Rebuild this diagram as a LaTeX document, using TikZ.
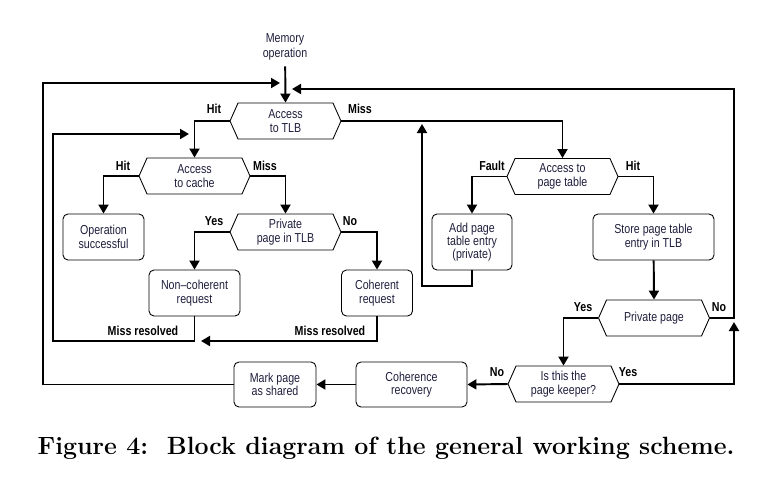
\documentclass[tikz,border=0pt]{standalone}
\usepackage{fontspec}
\usepackage{tikz}
\usetikzlibrary{arrows.meta,shapes.symbols}
\newfontfamily\diagfont{Liberation Sans}[FakeStretch=0.82,Ligatures=TeX]
\definecolor{txtblue}{RGB}{30,30,60}

\tikzset{
  box/.style={draw,rounded corners=0.1cm,line width=0.5pt,align=center,
    font=\diagfont\fontsize{7.4}{7.6}\selectfont,text=txtblue,inner sep=0pt},
  hexa/.style={draw,shape=signal,signal to=east and west,signal pointer angle=132,
    line width=0.5pt,align=center,font=\diagfont\fontsize{7.4}{7.6}\selectfont,
    text=txtblue,minimum width=2.22cm,minimum height=0.72cm,inner sep=0pt},
  flow/.style={line width=1.1pt,-{Triangle[length=0.18cm,width=0.2cm]}},
  lbl/.style={font=\diagfont\bfseries\fontsize{7.4}{7.6}\selectfont},
}

\begin{document}
\begin{tikzpicture}[x=0.02cm,y=-0.02cm]
  \useasboundingbox (0,0) rectangle (781,481);

  % decisions
  \node[hexa] (tlb)    at (285.5,121) {Access\\to TLB};
  \node[hexa] (cache)  at (194.5,176) {Access\\to cache};
  \node[hexa] (priv)   at (285.5,232) {Private\\page in TLB};
  \node[hexa] (pt)     at (562.5,176.5) {Access to\\page table};
  \node[hexa] (ppage)  at (654,318) {Private page};
  \node[hexa] (keeper) at (563.5,384) {Is this the\\page keeper?};

  % actions
  \node[box,minimum width=1.62cm,minimum height=0.92cm] (opok)   at (103.5,237) {Operation\\successful};
  \node[box,minimum width=1.82cm,minimum height=0.92cm] (noncoh) at (194.5,293) {Non\textendash coherent\\request};
  \node[box,minimum width=1.42cm,minimum height=0.92cm] (coh)    at (377,293) {Coherent\\request};
  \node[box,minimum width=1.60cm,minimum height=1.12cm] (addpt)  at (472,242) {Add page\\table entry\\(private)};
  \node[box,minimum width=2.42cm,minimum height=0.92cm] (store)  at (653.5,237) {Store page table\\entry in TLB};
  \node[box,minimum width=2.22cm,minimum height=0.90cm] (cohrec) at (411.5,384.5) {Coherence\\recovery};
  \node[box,minimum width=1.64cm,minimum height=0.90cm] (mark)   at (275,384.5) {Mark page\\as shared};

  \node[font=\diagfont\fontsize{7.4}{8.4}\selectfont,text=txtblue,align=center] (mem) at (285,47) {Memory\\operation};

  % loop corners
  \coordinate (topL) at (43,83);
  \coordinate (topLend) at (280,83);
  \coordinate (topR) at (734,89);
  \coordinate (topRend) at (292,89);
  \coordinate (keepR) at (734,322);
  \coordinate (resL) at (53,341);
  \coordinate (resLend) at (189,134);
  \coordinate (resRend) at (201,341);
  \coordinate (addL) at (422,286);
  \coordinate (addLend) at (422,124);

  \draw[flow] (mem) -- (tlb.north);
  \draw[flow] (tlb.west) -| (cache.north);
  \draw[flow] (tlb.east) -| (pt.north);
  \draw[flow] (cache.west) -| (opok.north);
  \draw[flow] (cache.east) -| (priv.north);
  \draw[flow] (priv.west) -| (noncoh.north);
  \draw[flow] (priv.east) -| (coh.north);
  \draw[flow] (pt.west) -| (addpt.north);
  \draw[flow] (pt.east) -| (store.north);
  \draw[flow] (store) -- (ppage.north);
  \draw[flow] (ppage.west) -| (keeper.north);
  \draw[flow] (ppage.east) -| (topR) -- (topRend);
  \draw[flow] (keeper.east) -| (keepR);
  \draw[flow] (keeper.west) -- (cohrec.east);
  \draw[flow] (cohrec.west) -- (mark.east);
  \draw[flow] (mark.west) -| (topL) -- (topLend);
  \draw[flow] (noncoh.south) |- (resL) |- (resLend);
  \draw[flow] (coh.south) |- (resRend);
  \draw[flow] (addpt.south) |- (addL) -- (addLend);

  % branch labels
  \node[lbl] (tlbhit)    at (214,109) {Hit};
  \node[lbl] (tlbmiss)   at (360,109) {Miss};
  \node[lbl] (cachehit)  at (123,166) {Hit};
  \node[lbl] (cachemiss) at (265,166) {Miss};
  \node[lbl] (privyes)   at (214,221) {Yes};
  \node[lbl] (privno)    at (350,221) {No};
  \node[lbl] (ptfault)   at (492,166) {Fault};
  \node[lbl] (pthit)     at (633,166) {Hit};
  \node[lbl] (ppyes)     at (583,307) {Yes};
  \node[lbl] (ppno)      at (719,307) {No};
  \node[lbl] (keepyes)   at (628,372) {Yes};
  \node[lbl] (keepno)    at (497,372) {No};
  \node[lbl] (resolvedL) at (143,331) {Miss resolved};
  \node[lbl] (resolvedR) at (330,331) {Miss resolved};

  \node[font=\fontsize{14.2}{16}\bfseries\selectfont] (caption) at (386,448)
    {Figure 4:\ \ Block diagram of the general working scheme.};
\end{tikzpicture}
\end{document}
